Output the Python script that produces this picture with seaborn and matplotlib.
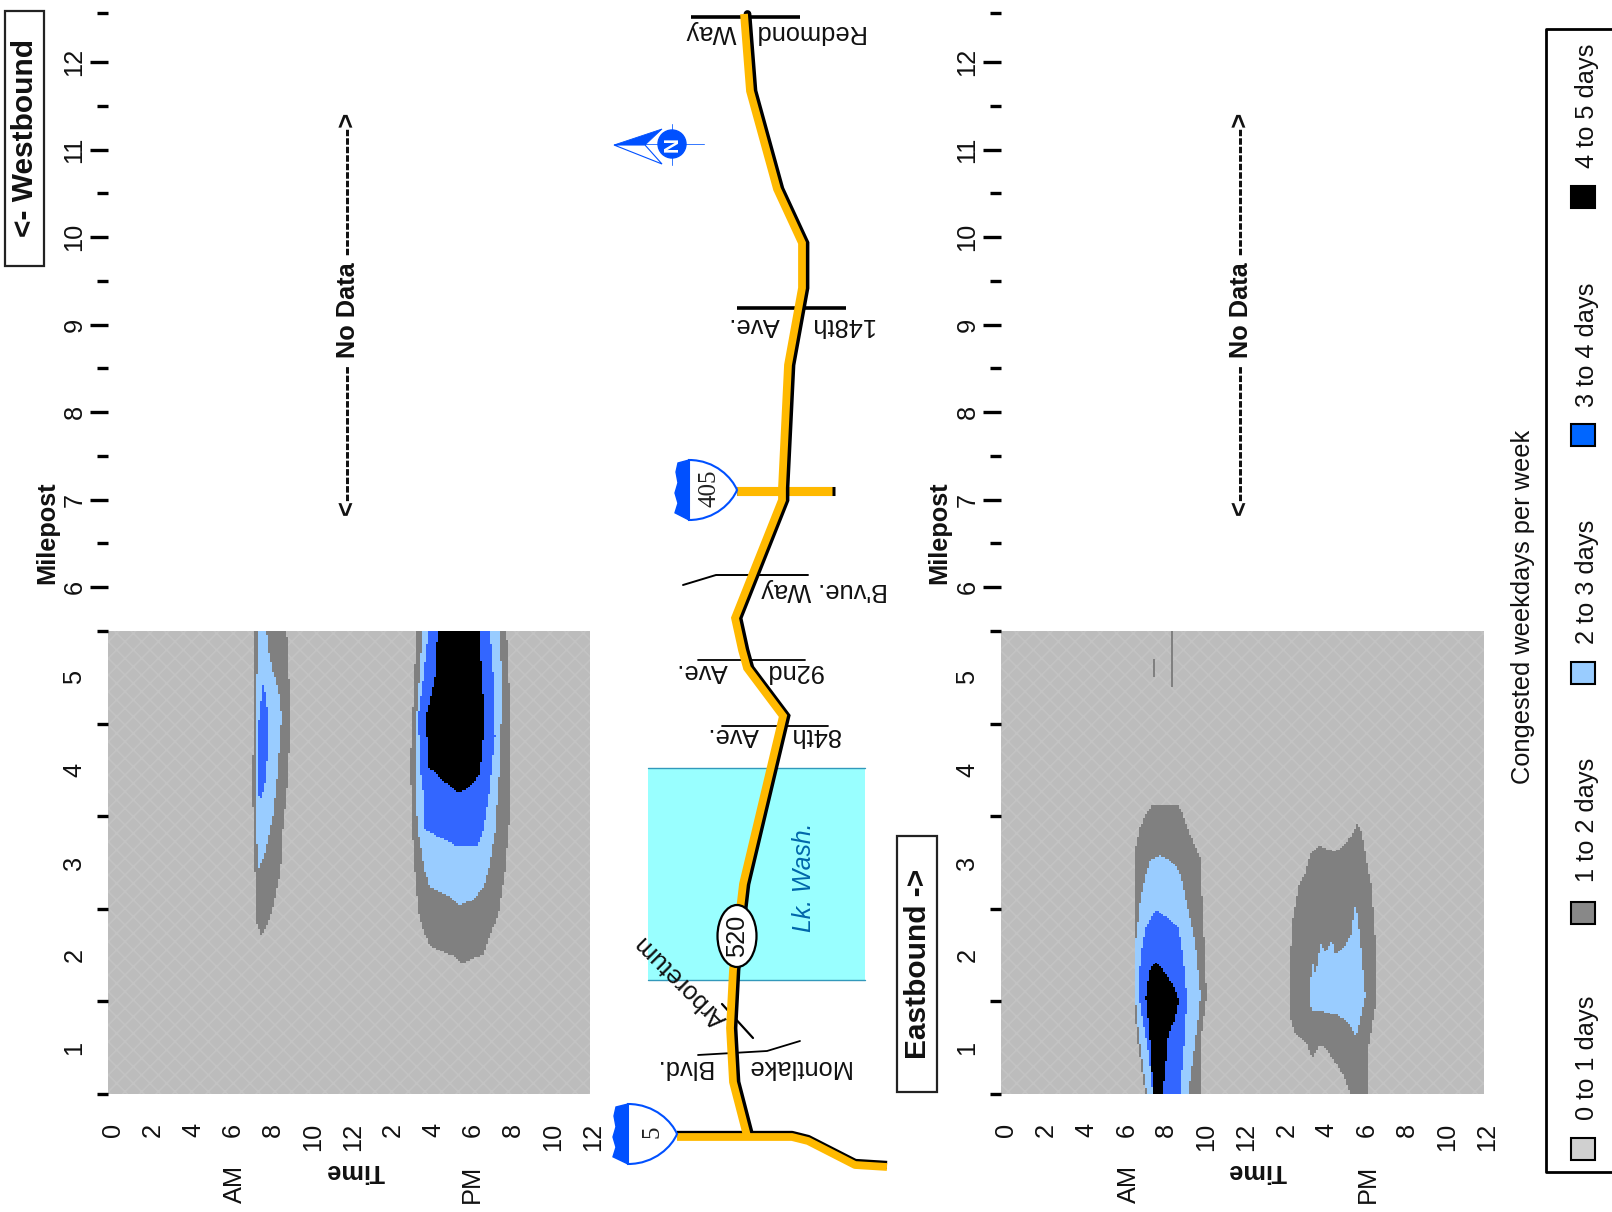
import numpy as np
import pandas as pd
import matplotlib
matplotlib.use("Agg")
import matplotlib.pyplot as plt
import seaborn as sns
from matplotlib.colors import ListedColormap
from matplotlib.patches import Ellipse, PathPatch, Polygon, Rectangle
from matplotlib.path import Path
from matplotlib.transforms import ScaledTranslation

W, H = 1612, 1212

# band outlines (hour of day, milepost)
wb_am_1_hour = [7.2, 7.17, 7.13, 7.25, 7.33, 7.58, 7.92, 8.2, 8.53, 8.63, 8.92, 9.0, 8.92, 8.83]
wb_am_1_mile = [5.5, 4.58, 3.74, 2.9, 2.35, 2.2, 2.35, 2.56, 2.9, 3.32, 3.95, 4.58, 5.21, 5.5]
wb_am_2_hour = [7.42, 7.28, 7.3, 7.3, 7.45, 7.75, 8.17, 8.37, 8.58, 8.42, 8.08, 7.92, 7.83]
wb_am_2_mile = [5.5, 4.58, 3.74, 3.32, 2.94, 3.1, 3.53, 3.95, 4.58, 4.87, 5.12, 5.29, 5.5]
wb_am_3_hour = [7.67, 7.92, 7.83, 7.63, 7.47, 7.42, 7.38, 7.5]
wb_am_3_mile = [4.95, 4.58, 3.95, 3.74, 3.65, 3.82, 4.37, 4.66]

wb_pm_1_hour = [15.33, 15.13, 15.0, 15.08, 15.13, 15.25, 15.42, 15.67, 16.0, 16.67, 17.17, 17.58,
                18.67, 19.08, 19.42, 19.75, 20.0, 20.03, 19.83]
wb_pm_1_mile = [5.5, 4.58, 4.03, 3.74, 3.32, 2.9, 2.47, 2.26, 2.1, 2.03, 1.99, 1.91,
                2.01, 2.26, 2.43, 2.9, 3.53, 4.58, 5.5]
wb_pm_2_hour = [15.63, 15.33, 15.25, 15.42, 15.75, 16.0, 16.67, 17.08, 17.5, 18.17, 18.67, 18.92,
                19.25, 19.53, 19.58, 19.5]
wb_pm_2_mile = [5.5, 4.58, 3.74, 3.32, 2.9, 2.73, 2.66, 2.62, 2.54, 2.6, 2.73, 2.9,
                3.32, 4.16, 5.0, 5.5]
wb_pm_3_hour = [15.92, 15.67, 15.42, 15.5, 15.67, 15.75, 16.5, 17.42, 18.42, 18.67, 18.95, 19.25, 19.17, 19.0]
wb_pm_3_mile = [5.5, 5.0, 4.58, 4.03, 3.74, 3.36, 3.27, 3.17, 3.19, 3.36, 3.74, 4.37, 5.0, 5.5]
wb_pm_4_hour = [16.38, 16.25, 16.0, 15.8, 15.92, 16.17, 16.67, 17.08, 17.42, 18.0, 18.5, 18.75, 18.58, 18.5]
wb_pm_4_mile = [5.5, 5.0, 4.74, 4.58, 4.03, 3.99, 3.88, 3.82, 3.75, 3.82, 3.95, 4.58, 5.0, 5.5]

eb_am_1_hour = [7.11, 6.69, 6.56, 6.61, 6.64, 6.86, 7.19, 7.52, 8.69, 8.94, 9.35, 9.85, 10.02, 10.18, 9.93, 9.93]
eb_am_1_mile = [0.5, 1.14, 1.55, 2.36, 3.18, 3.38, 3.55, 3.63, 3.63, 3.55, 3.3, 3.06, 2.36, 1.55, 1.14, 0.5]
eb_am_2_hour = [7.19, 6.78, 6.61, 6.64, 6.86, 7.11, 7.36, 7.86, 8.52, 8.85, 9.19, 9.6, 9.88, 9.68, 9.27]
eb_am_2_mile = [0.5, 1.14, 1.55, 2.16, 2.57, 2.85, 3.02, 3.08, 3.0, 2.89, 2.57, 2.16, 1.55, 1.18, 0.5]
eb_am_3_hour = [7.49, 7.28, 6.94, 6.81, 6.86, 7.11, 7.61, 8.19, 8.77, 9.02, 9.19, 9.1, 8.85]
eb_am_3_mile = [0.5, 0.94, 1.35, 1.55, 1.96, 2.28, 2.49, 2.41, 2.3, 1.96, 1.55, 1.14, 0.5]
eb_am_4_hour = [7.52, 7.33, 7.14, 7.33, 7.64, 8.02, 8.52, 8.8, 8.6, 8.27, 7.99]
eb_am_4_mile = [0.5, 1.14, 1.55, 1.84, 1.92, 1.84, 1.67, 1.51, 1.31, 1.14, 0.5]

eb_pm_1_hour = [17.33, 17.0, 16.5, 16.0, 15.75, 15.42, 15.17, 14.5, 14.29, 14.25, 14.42, 14.75, 15.0, 15.33,
                15.75, 16.5, 17.0, 17.41, 17.66, 17.87, 18.16, 18.37, 18.57, 18.65, 18.49, 18.24, 18.16]
eb_pm_1_mile = [0.5, 0.7, 0.86, 1.02, 1.02, 0.88, 1.04, 1.18, 1.35, 1.75, 2.36, 2.77, 2.85, 3.1,
                3.18, 3.12, 3.18, 3.3, 3.42, 3.34, 2.98, 2.77, 2.16, 1.55, 1.35, 1.02, 0.5]
eb_pm_2_hour = [15.42, 15.25, 15.42, 15.58, 15.83, 16.08, 16.41, 16.58, 17.0, 17.33, 17.58, 17.82, 18.07,
                17.82, 17.6, 17.24, 16.66, 16.0]
eb_pm_2_mile = [1.39, 1.53, 1.92, 1.79, 2.12, 2.04, 2.16, 2.0, 2.08, 2.2, 2.57, 2.16, 1.55,
                1.31, 1.12, 1.27, 1.35, 1.39]
eb_streak_a_hour = [8.38, 8.5, 8.5, 8.38]
eb_streak_a_mile = [5.5, 5.5, 4.9, 4.9]
eb_streak_b_hour = [7.5, 7.6, 7.6, 7.5]
eb_streak_b_mile = [5.2, 5.2, 5.0, 5.0]

wb_bands = [(1, wb_am_1_hour, wb_am_1_mile), (2, wb_am_2_hour, wb_am_2_mile), (3, wb_am_3_hour, wb_am_3_mile),
            (1, wb_pm_1_hour, wb_pm_1_mile), (2, wb_pm_2_hour, wb_pm_2_mile), (3, wb_pm_3_hour, wb_pm_3_mile),
            (4, wb_pm_4_hour, wb_pm_4_mile)]
eb_bands = [(1, eb_am_1_hour, eb_am_1_mile), (2, eb_am_2_hour, eb_am_2_mile), (3, eb_am_3_hour, eb_am_3_mile),
            (4, eb_am_4_hour, eb_am_4_mile), (1, eb_pm_1_hour, eb_pm_1_mile), (2, eb_pm_2_hour, eb_pm_2_mile),
            (1, eb_streak_a_hour, eb_streak_a_mile), (1, eb_streak_b_hour, eb_streak_b_mile)]

level_colors = ["#BEBEBE", "#808080", "#99CCFF", "#3366FF", "#000000"]
legend_labels = ["0 to 1 days", "1 to 2 days", "2 to 3 days", "3 to 4 days", "4 to 5 days"]
legend_colors = ["#D0D0D0", "#888888", "#99CCFF", "#0066FF", "#000000"]
time_labels = ["0", "2", "4", "6", "8", "10", "12", "2", "4", "6", "8", "10", "12"]

# map, in picture pixels
route_x = [744, 750, 777, 802, 802, 788, 782, 782, 735, 742, 747, 783, 743, 733, 730, 733, 747]
route_y = [14, 91, 189, 243, 288, 365, 488, 500, 618, 650, 668, 716, 884, 970, 1028, 1082, 1136]
i5_x = [677, 792, 808, 855, 887]
i5_y = [1137, 1137, 1141, 1165, 1167]

HOUR0, DH, DM = -0.1, 0.1, 0.02

sns.set_theme(style="white")
plt.rcParams["font.family"] = ["Liberation Sans", "DejaVu Sans"]
plt.rcParams["font.size"] = 18
plt.rcParams["hatch.linewidth"] = 1.2


def band_grid(bands):
    hours = HOUR0 + DH * (np.arange(241) + 0.5)
    miles = 5.5 - DM * (np.arange(250) + 0.5)
    hh, mm = np.meshgrid(hours, miles)
    pts = np.column_stack([hh.ravel(), mm.ravel()])
    grid = np.zeros(hh.shape, dtype=int)
    for level, hour, mile in bands:
        hit = Path(np.column_stack([hour, mile])).contains_points(pts, radius=1e-6).reshape(hh.shape)
        grid[hit] = np.maximum(grid[hit], level)
    return pd.DataFrame(grid, index=miles, columns=hours)


def add_ax(left, top, right, bottom):
    return fig.add_axes([left / W, 1 - bottom / H, (right - left) / W, (bottom - top) / H])


def draw_panel(bands, left, right, label_pad=2.5):
    ax = add_ax(left, 631, right, 1094)
    # weave of the uncongested background shows through the masked cells
    ax.add_patch(Rectangle((0, 0), 1, 1, transform=ax.transAxes, fc="#BCBCBC", ec="#C3C3C3",
                           hatch="xx", lw=0, zorder=0))
    data = band_grid(bands)
    sns.heatmap(data, ax=ax, cmap=ListedColormap(level_colors), vmin=-0.5, vmax=4.5, mask=data == 0,
                cbar=False, xticklabels=False, yticklabels=False)
    hour_ticks = (np.arange(25) - HOUR0) / DH
    labels = [""] * 25
    labels[::2] = time_labels
    ax.set_xticks(hour_ticks)
    ax.set_xticklabels(labels, rotation=90, fontsize=18.3, color="#111111")
    ax.set_yticks((5.5 - np.arange(1, 6)) / DM)
    ax.set_yticklabels(["1", "2", "3", "4", "5"], rotation=90, va="center", fontsize=18.3, color="#111111")
    ax.set_yticks((5.5 - np.arange(0.5, 6)) / DM, minor=True)
    ax.set_xlabel("")
    ax.set_ylabel("")
    ax.tick_params(axis="x", length=13, width=2.2, pad=8, color="black")
    ax.tick_params(axis="y", which="major", length=13, width=2.4, pad=label_pad, color="black")
    ax.tick_params(axis="y", which="minor", length=8, width=2.4, left=True, color="black")
    shift = ScaledTranslation(3 / 100, 0, fig.dpi_scale_trans)
    for lab in ax.get_xticklabels():
        lab.set_transform(lab.get_transform() + shift)

    top_ax = add_ax(left, 13, right, 631)
    top_ax.set_ylim(5.5, 12.56)
    top_ax.set_xlim(0, 1)
    top_ax.patch.set_alpha(0)
    sns.despine(ax=top_ax, left=True, bottom=True)
    top_ax.set_xticks([])
    top_ax.set_yticks(np.arange(6, 13))
    top_ax.set_yticklabels([str(m) for m in range(6, 13)], rotation=90, va="center", fontsize=18.3, color="#111111")
    top_ax.set_yticks(list(np.arange(6.5, 12.5)) + [12.56], minor=True)
    top_ax.tick_params(axis="y", which="major", length=13, width=2.4, pad=label_pad, left=True, color="black")
    top_ax.tick_params(axis="y", which="minor", length=8, width=2.4, left=True, color="black")
    return ax


def shield(ax, x_band, x_flat, x_tip, yc, h, num, dx):
    band = [(x_flat, yc - h / 2), (x_band + 3, yc - h / 2 + 3), (x_band + 1, yc - h * 0.3), (x_band + 3, yc - h * 0.12),
            (x_band, yc + h * 0.05), (x_band + 3, yc + h * 0.22), (x_band, yc + h * 0.38), (x_flat, yc + h / 2)]
    ax.add_patch(Polygon(band, closed=True, fc="#0050FF", ec="#0050FF", lw=1, zorder=5))
    w = x_tip - x_flat
    verts = [(x_flat, yc - h / 2), (x_flat + 0.55 * w, yc - h / 2), (x_tip - 0.1 * w, yc - 0.2 * h), (x_tip, yc),
             (x_tip - 0.1 * w, yc + 0.2 * h), (x_flat + 0.55 * w, yc + h / 2), (x_flat, yc + h / 2), (x_flat, yc - h / 2)]
    codes = [Path.MOVETO] + [Path.CURVE4] * 6 + [Path.CLOSEPOLY]
    ax.add_patch(PathPatch(Path(verts, codes), fc="white", ec="#0050FF", lw=1.5, zorder=5))
    ax.text((x_flat + x_tip) / 2 + dx, yc - 2, num, rotation=90, ha="center", va="center", fontsize=18,
            family="Liberation Serif", color="#222222", zorder=6)


fig = plt.figure(figsize=(W / 100, H / 100), dpi=100)

draw_panel(wb_bands, 108, 590)
draw_panel(eb_bands, 1001, 1484)

ov = fig.add_axes([0, 0, 1, 1])
ov.set_xlim(0, W)
ov.set_ylim(H, 0)
ov.axis("off")
ov.patch.set_alpha(0)


def rot(x, y, s, angle=90, **kw):
    kw.setdefault("fontsize", 18.3)
    kw.setdefault("color", "#111111")
    if angle == 90:
        x += 3
    elif angle == 180:
        y -= 3.5
    ov.text(x, y, s, rotation=angle, ha="center", va="center", rotation_mode="anchor", **kw)


# panel titles
no_data = "<" + "-" * 16 + " No Data " + "-" * 15 + ">"
for x_left, m_x, am, tm, pm in [(345, 44, 232, 355, 469), (1238, 936, 1126, 1257, 1365)]:
    rot(x_left, 314, no_data, fontweight="bold")
    rot(m_x, 533, "Milepost", fontweight="bold")
    rot(am, 1184, "AM")
    rot(pm, 1184, "PM")
    rot(tm, 1175, "Time", angle=180, fontweight="bold")

# lake
ov.add_patch(Rectangle((648, 768), 217, 212, fc="#99FFFF", ec="none", zorder=1))
ov.plot([648, 865], [768, 768], color="#3399BB", lw=1, zorder=1.5)
ov.plot([648, 865], [980, 980], color="#3399BB", lw=1, zorder=1.5)
rot(801, 877, "Lk. Wash.", style="italic", color="#0066AA", fontsize=17.8)

# crossing streets
ov.plot([691, 800], [17, 17], color="black", lw=2.6, solid_capstyle="butt", zorder=2)
ov.plot([737, 846], [308, 308], color="black", lw=2.6, solid_capstyle="butt", zorder=2)
ov.plot([683, 716, 808], [585, 575, 575], color="black", lw=1.4, zorder=2)
ov.plot([698, 805], [660, 660], color="black", lw=1.3, zorder=2)
ov.plot([722, 828], [726, 726], color="black", lw=1.3, zorder=2)
ov.plot([722, 753], [1004, 1038], color="black", lw=1.6, zorder=2)
ov.plot([698, 767, 800], [1055, 1051, 1041], color="black", lw=1.3, zorder=2)

# roads
ov.plot([737, 835], [491, 491], color="black", lw=6.5, solid_capstyle="butt", zorder=2.4)
ov.plot([737, 832], [491, 491], color="#FFB900", lw=6.5, solid_capstyle="butt", zorder=2.5)
ov.plot(np.array(i5_x), np.array(i5_y) - 2, color="black", lw=6, solid_capstyle="butt", zorder=2.6)
ov.plot(np.array(route_x) + 3.5, route_y, color="black", lw=5.6, solid_joinstyle="miter", zorder=3)
ov.plot(route_x, route_y, color="#FFB900", lw=5.6, solid_capstyle="butt", solid_joinstyle="miter", zorder=3.2)
ov.plot(i5_x, i5_y, color="#FFB900", lw=5.6, solid_capstyle="butt", zorder=3.3)

# street names
rot(777, 36, "Redmond   Way", angle=180)
rot(803, 328, "148th     Ave.", angle=180)
rot(825, 593, "B'vue. Way", angle=180)
rot(751, 675, "92nd      Ave.", angle=180)
rot(775, 738, "84th     Ave.", angle=180)
rot(756, 1071, "Montlake     Blvd.", angle=180)
rot(681, 981, "Arboretum", angle=135)

# route shields
ov.add_patch(Ellipse((737, 936), 39, 62, fc="white", ec="black", lw=1.6, zorder=5))
rot(734, 936, "520", zorder=6)
shield(ov, 675, 689, 737, 490, 60, "405", -3)
shield(ov, 613, 628, 677, 1134, 60, "5", 0)

# north arrow
ov.plot([645, 704], [144, 144], color="#3377FF", lw=0.7, zorder=4)
ov.plot([672, 672], [124, 165], color="#3377FF", lw=0.7, zorder=4)
ov.add_patch(Polygon([(614, 145), (662, 129), (645, 145)], closed=True, fc="#0050FF", ec="#0050FF", lw=0.6, zorder=4))
ov.add_patch(Polygon([(614, 145), (662, 164), (645, 145)], closed=True, fc="white", ec="#0050FF", lw=0.8, zorder=4))
ov.add_patch(Ellipse((672, 144), 28, 28, fc="#0050FF", ec="#0050FF", zorder=5))
rot(669, 144, "N", fontsize=15, fontweight="bold", color="white", zorder=6)

# direction boxes
ov.add_patch(Rectangle((5, 11), 39, 255, fc="white", ec="#222222", lw=1.6))
rot(22, 138, "<- Westbound", fontsize=21.5, fontweight="bold")
ov.add_patch(Rectangle((897, 836), 40, 256, fc="white", ec="#222222", lw=1.6))
rot(915, 964, "Eastbound ->", fontsize=21.5, fontweight="bold")

# legend
ov.plot([W, 1546, 1546, W], [29, 29, 1172, 1172], color="black", lw=2)
rot(1520, 607, "Congested weekdays per week")
for lab, col, py, ly in zip(legend_labels, legend_colors, [1149, 913, 673, 435, 197], [1058, 820, 582, 345, 106]):
    ov.add_patch(Rectangle((1571, py - 11), 24, 22, fc=col, ec="black", lw=1.5))
    rot(1584, ly, lab)

fig.savefig("out.png", dpi=100)
